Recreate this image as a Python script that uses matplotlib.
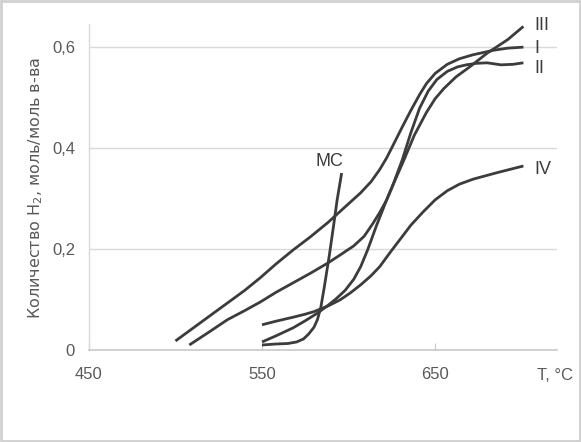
import matplotlib
matplotlib.use("Agg")
import matplotlib.pyplot as plt
from matplotlib.patches import Rectangle

# ---- data ----
T_I = [500, 510, 520, 530, 540, 549, 558, 568, 578, 588, 597, 607, 613, 618, 622, 626,
       631, 636, 641, 645, 650, 657, 664, 672, 684, 692, 701]
Y_I = [0.018, 0.043, 0.068, 0.093, 0.118, 0.143, 0.170, 0.198, 0.224, 0.252, 0.280, 0.311,
       0.333, 0.357, 0.380, 0.407, 0.441, 0.474, 0.505, 0.527, 0.547, 0.565, 0.576, 0.584,
       0.593, 0.597, 0.599]

T_II = [508, 520, 530, 540, 549, 558, 568, 578, 588, 596, 603, 609, 614, 618, 622, 626,
        631, 636, 641, 646, 651, 657, 663, 668, 674, 680, 688, 695, 701]
Y_II = [0.010, 0.037, 0.060, 0.078, 0.095, 0.114, 0.133, 0.152, 0.172, 0.190, 0.206, 0.225,
        0.250, 0.272, 0.297, 0.330, 0.376, 0.430, 0.478, 0.512, 0.535, 0.551, 0.560, 0.564,
        0.567, 0.568, 0.564, 0.565, 0.568]

T_III = [550, 558, 568, 575, 582, 588, 593, 598, 603, 607, 611, 616, 622, 627, 632, 638,
         645, 650, 655, 662, 670, 680, 692, 701]
Y_III = [0.016, 0.028, 0.044, 0.058, 0.073, 0.088, 0.102, 0.118, 0.140, 0.165, 0.198, 0.245,
         0.297, 0.337, 0.376, 0.425, 0.470, 0.497, 0.517, 0.540, 0.560, 0.587, 0.614, 0.640]

T_IV = [550, 558, 568, 575, 580, 588, 595, 601, 607, 613, 618, 624, 630, 636, 643, 650,
        657, 664, 672, 686, 701]
Y_IV = [0.050, 0.057, 0.065, 0.071, 0.076, 0.087, 0.099, 0.113, 0.129, 0.147, 0.165, 0.193,
        0.220, 0.247, 0.273, 0.297, 0.315, 0.328, 0.338, 0.351, 0.364]

T_MC = [550, 558, 565, 570, 574, 577, 580, 582, 584, 586, 589, 591.5, 593.4, 596]
Y_MC = [0.010, 0.012, 0.013, 0.016, 0.022, 0.032, 0.045, 0.060, 0.085, 0.125, 0.190, 0.250,
        0.297, 0.350]

series = [("I", T_I, Y_I), ("II", T_II, Y_II), ("III", T_III, Y_III),
          ("IV", T_IV, Y_IV), ("MC", T_MC, Y_MC)]

label_pos = {"III": (707.5, 0.642), "I": (707.5, 0.597), "II": (707.5, 0.556),
             "IV": (707.5, 0.357), "MC": (589, 0.372)}
label_text = {"III": "III", "I": "I", "II": "II", "IV": "IV", "MC": "МС"}

x_ticks = [450, 550, 650]
y_ticks = [0, 0.2, 0.4, 0.6]
y_tick_labels = ["0", "0,2", "0,4", "0,6"]

narrow = ["Liberation Sans Narrow", "Liberation Sans", "DejaVu Sans"]

fig = plt.figure(figsize=(5.81, 4.42), dpi=100)
fig.patch.set_facecolor("white")
fig.patches.append(Rectangle((0.002, 0.003), 0.996, 0.994, transform=fig.transFigure,
                             fill=False, edgecolor="#d0d0d0", linewidth=2))
ax = fig.add_axes([0.153, 0.208, 0.806, 0.738])

line_col = "#3c3c3c"
for name, t, y in series:
    ax.plot(t, y, color=line_col, lw=2.0, solid_capstyle="butt", solid_joinstyle="round")

for name, (x, y) in label_pos.items():
    ax.text(x, y, label_text[name], ha="left" if name != "MC" else "center", va="center",
            fontsize=13, color=line_col, family=narrow, clip_on=False)

ax.set_xlim(450, 720.5)
ax.set_ylim(0, 0.645)

for s in ["top", "right"]:
    ax.spines[s].set_visible(False)
ax.spines["left"].set_color("#d9d9d9")
ax.spines["bottom"].set_color("#c8c8c8")
ax.spines["left"].set_linewidth(1)
ax.spines["bottom"].set_linewidth(1.2)

for yv in y_ticks[1:]:
    ax.axhline(yv, color="#d9d9d9", lw=1, zorder=0)

ax.set_xticks(x_ticks)
ax.set_xticklabels([str(v) for v in x_ticks], family=narrow, fontsize=12, color="#595959")
ax.set_yticks(y_ticks)
ax.set_yticklabels(y_tick_labels, family=narrow, fontsize=12, color="#595959")
ax.tick_params(axis="x", direction="in", length=5, color="#c8c8c8", pad=12)
ax.tick_params(axis="y", length=0, pad=10)

ax.text(709, -0.05, "T, °C", ha="left", va="center", fontsize=12, color="#595959",
        family=narrow, clip_on=False)

ax.set_ylabel("Количество H$_2$, моль/моль в-ва", fontsize=11.5, color="#595959",
              family="DejaVu Sans")
ax.yaxis.set_label_coords(-0.094, 0.498)

fig.savefig("out.png", dpi=100)
